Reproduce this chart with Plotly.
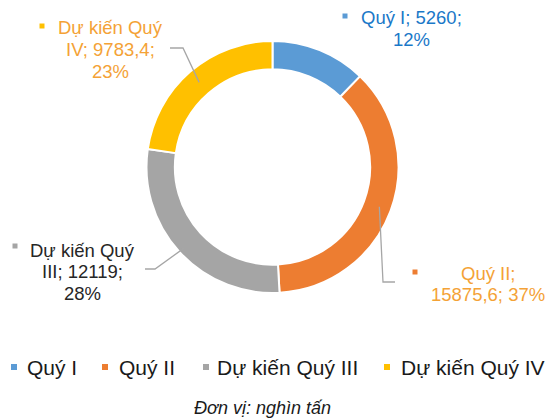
import math
import plotly.graph_objects as go

# ---- data ----
categories = ["Quý I", "Quý II", "Dự kiến Quý III", "Dự kiến Quý IV"]
values = [5260, 15875.6, 12119, 9783.4]
value_labels = ["5260", "15875,6", "12119", "9783,4"]
percent_labels = ["12%", "37%", "28%", "23%"]

# ---- style ----
slice_colors = ["#5B9BD5", "#ED7D31", "#A5A5A5", "#FFC000"]
label_colors = ["#1A78C8", "#F4A236", "#262626", "#F4A236"]
FONT = "Liberation Sans, Arial, sans-serif"
W, H = 557, 420
CX, CY, R = 272.5, 167.0, 126.0
HOLE = 0.775


def px(x):
    return x / W


def py(y):
    return 1 - y / H


fig = go.Figure()
fig.add_trace(go.Pie(
    labels=categories,
    values=values,
    hole=HOLE,
    sort=False,
    direction="clockwise",
    rotation=0,
    marker=dict(colors=slice_colors, line=dict(color="white", width=2)),
    textinfo="none",
    hoverinfo="label+value+percent",
    showlegend=False,
    domain=dict(x=[px(CX - R), px(CX + R)], y=[py(CY + R), py(CY - R)]),
))

# data label lines (line breaks as in the reference)
label_lines = [
    [f"{categories[0]}; {value_labels[0]};", percent_labels[0]],
    [f"{categories[1]};", f"{value_labels[1]}; {percent_labels[1]}"],
    ["Dự kiến Quý", f"III; {value_labels[2]};", percent_labels[2]],
    ["Dự kiến Quý", f"IV; {value_labels[3]};", percent_labels[3]],
]
label_x = [411, 488, 82, 110]
label_top = [18, 273, 250, 28]
LINE_STEP = 21.5
marker_pos = [(345, 16), (415, 272), (15, 246), (42, 26)]

annotations = []
shapes = []
for i in range(4):
    for j, line in enumerate(label_lines[i]):
        annotations.append(dict(
            x=px(label_x[i]), y=py(label_top[i] + j * LINE_STEP),
            xref="paper", yref="paper",
            text=line, showarrow=False, align="center",
            xanchor="center", yanchor="middle",
            font=dict(family=FONT, size=18.5, color=label_colors[i]),
        ))
    mx, my = marker_pos[i]
    shapes.append(dict(
        type="rect", xref="paper", yref="paper",
        x0=px(mx - 2.5), x1=px(mx + 2.5), y0=py(my + 2.5), y1=py(my - 2.5),
        fillcolor=slice_colors[i], line=dict(width=0),
    ))

# leader lines: from slice mid-angle point to label elbow
total = sum(values)
cum = 0
mids = []
for v in values:
    mids.append((cum + v / 2) / total * 2 * math.pi)
    cum += v

leaders = {
    1: dict(r=114, pts=[(383, 282), (395, 282)]),
    2: dict(r=120, pts=[(155, 269), (145, 269)]),
    3: dict(r=112, pts=[(183, 48), (170, 48)]),
}
for i, spec in leaders.items():
    a = mids[i]
    sx = CX + spec["r"] * math.sin(a)
    sy = CY - spec["r"] * math.cos(a)
    pts = [(sx, sy)] + spec["pts"]
    path = "M " + " L ".join(f"{px(x):.5f},{py(y):.5f}" for x, y in pts)
    shapes.append(dict(type="path", xref="paper", yref="paper", path=path,
                       line=dict(color="#A6A6A6", width=1.3)))

# legend (manual, small square markers as in reference)
legend_marker_x = [14, 105, 206, 387]
legend_text_x = [25, 117, 215, 399]
LEG_Y = 367
for i in range(4):
    mx = legend_marker_x[i]
    shapes.append(dict(
        type="rect", xref="paper", yref="paper",
        x0=px(mx - 3), x1=px(mx + 3), y0=py(LEG_Y + 3), y1=py(LEG_Y - 3),
        fillcolor=slice_colors[i], line=dict(width=0),
    ))
    annotations.append(dict(
        x=px(legend_text_x[i]), y=py(LEG_Y), xref="paper", yref="paper",
        text=categories[i], showarrow=False, xanchor="left", yanchor="middle",
        font=dict(family=FONT, size=21, color="#1A1A1A"),
    ))

annotations.append(dict(
    x=px(262), y=py(408), xref="paper", yref="paper",
    text="<i>Đơn vị: nghìn tấn</i>", showarrow=False,
    xanchor="center", yanchor="middle",
    font=dict(family=FONT, size=18, color="#1A1A1A"),
))

fig.update_layout(
    width=W, height=H,
    margin=dict(l=0, r=0, t=0, b=0),
    paper_bgcolor="white", plot_bgcolor="white",
    annotations=annotations, shapes=shapes,
    showlegend=False,
)
fig.write_html(
    "out.html",
    config={"displayModeBar": False},
    post_script="document.body.style.margin='0';document.body.style.overflow='hidden';",
)
